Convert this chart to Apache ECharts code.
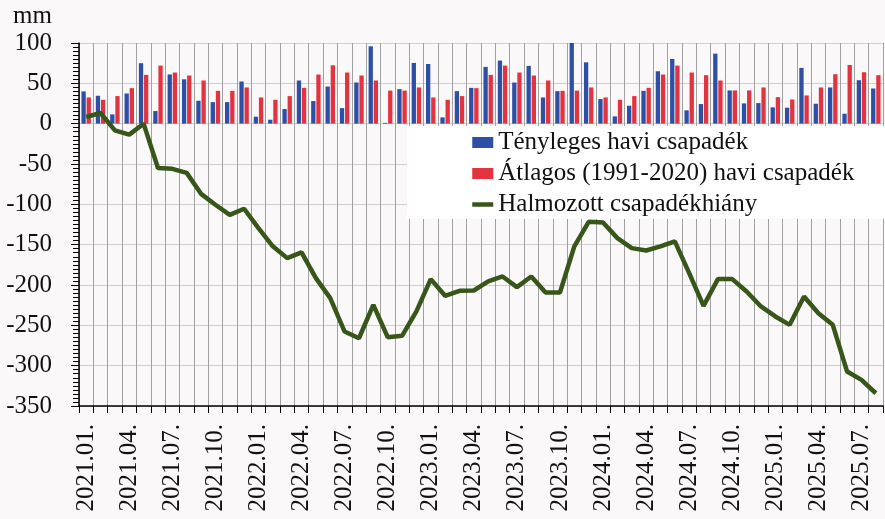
<!DOCTYPE html>
<html>
<head>
<meta charset="utf-8">
<script src="https://cdn.jsdelivr.net/npm/echarts@6/dist/echarts.min.js"></script>
<style>
  html, body { margin: 0; padding: 0; background: #fbf8f9; }
  #box { width: 885px; height: 519px; }
</style>
</head>
<body>
<div id="box"></div>
<script>
// hónapok 2021.01. - 2025.08.
var months = [];
for (var y = 2021; y <= 2025; y++) {
  for (var m = 1; m <= 12; m++) {
    if (y === 2025 && m > 8) break;
    months.push(y + '.' + (m < 10 ? '0' + m : m) + '.');
  }
}

// Tényleges havi csapadék (mm)
var actual = [
  40, 34.6, 11.5, 37.4, 75, 15.6, 61, 55, 28.4, 26.7, 26.7, 52.3,
  8.6, 4.9, 18.1, 53.5, 28, 46, 19.3, 51, 95.9, 1, 42.8, 75.3,
  74, 7.8, 40.3, 44.4, 70.4, 78.2, 51, 71.6, 32.5, 40.3, 100, 76,
  30.5, 9, 22.2, 40.7, 65, 80.2, 16.5, 24.3, 86.8, 41.2, 25.1, 25.5,
  20.2, 19.8, 69.1, 24.7, 44.9, 12.3, 53.9, 43.6
];

// Átlagos (1991-2020) havi csapadék (mm)
var average = [
  32.5, 29.6, 34.2, 44, 60.5, 72, 63.4, 59.7, 53.5, 40.7, 40.7, 44.9,
  32.5, 29.6, 34.2, 44.4, 60.9, 72.4, 63.4, 59.7, 53.5, 41, 41, 44.9,
  32.5, 29.6, 34.2, 44, 60.5, 72, 63.4, 59.7, 53.5, 40.7, 41, 44.9,
  32.5, 29.6, 34.2, 44.4, 60.9, 72, 63.4, 60.1, 53.5, 41.2, 41.2, 44.9,
  32.9, 30, 35, 44.9, 61.3, 72.8, 63.8, 60.1
];

// Halmozott csapadékhiány (mm)
var deficit = [
  8.3, 13.2, -8.3, -13.6, 0, -55, -56, -61, -87, -100.5, -113, -105.5,
  -129.4, -152, -166.7, -159.6, -191.5, -216.3, -257.7, -266, -224.6, -264.7, -263, -232.8,
  -192.7, -213.4, -207.2, -206.8, -195.6, -189.4, -202.6, -189.4, -209.3, -209.3, -152.2, -121.6,
  -122.4, -141.9, -154.3, -157.2, -152.2, -146, -185.3, -225.8, -192.7, -192.7, -208, -226.6,
  -239, -249.4, -214.2, -235, -249.4, -307.3, -317.6, -334.2
];

var font = '"Liberation Serif", "Times New Roman", serif';

var myChart = echarts.init(document.getElementById('box'));

var option = {
  backgroundColor: '#fbf8f9',
  animation: false,
  textStyle: { fontFamily: font },
  grid: { left: 79, right: 2, top: 43, bottom: 113, containLabel: false },
  legend: {
    orient: 'vertical',
    left: 407,
    top: 126,
    padding: [4, 40, 2, 63],
    backgroundColor: '#ffffff',
    itemWidth: 21,
    itemHeight: 11,
    itemGap: 6,
    textStyle: { fontFamily: font, fontSize: 25, color: '#111', lineHeight: 25 },
    data: [
      { name: 'Tényleges havi csapadék', icon: 'rect' },
      { name: 'Átlagos (1991-2020) havi csapadék', icon: 'rect' },
      { name: 'Halmozott csapadékhiány', itemStyle: { opacity: 0 }, lineStyle: { width: 4.5 } }
    ]
  },
  xAxis: {
    type: 'category',
    data: months,
    boundaryGap: true,
    axisLine: { onZero: false, lineStyle: { color: '#000', width: 1.5 } },
    axisTick: { show: true, interval: 0, length: 7, lineStyle: { color: '#000' } },
    axisLabel: {
      interval: 2,
      rotate: 90,
      margin: 18,
      fontFamily: font,
      fontSize: 25,
      color: '#111'
    },
    splitLine: { show: true, interval: 0, lineStyle: { color: '#a0a0a0', width: 1 } }
  },
  yAxis: {
    type: 'value',
    min: -350,
    max: 100,
    interval: 50,
    name: 'mm',
    nameLocation: 'end',
    nameGap: 14,
    nameTextStyle: { fontFamily: font, fontSize: 25, color: '#111', align: 'right', padding: [0, 27, 0, 0] },
    axisLine: { show: true, lineStyle: { color: '#000', width: 1.5 } },
    axisTick: { show: true, length: 8, lineStyle: { color: '#000' } },
    minorTick: { show: true, splitNumber: 10, length: 6, lineStyle: { color: '#000' } },
    axisLabel: { margin: 27, fontFamily: font, fontSize: 25, color: '#111' },
    splitLine: { show: true, lineStyle: { color: '#cfcfcf', width: 1 } }
  },
  series: [
    {
      name: 'Tényleges havi csapadék',
      type: 'bar',
      data: actual,
      barWidth: 4.3,
      barGap: '20%',
      itemStyle: { color: '#2d4fa6' }
    },
    {
      name: 'Átlagos (1991-2020) havi csapadék',
      type: 'bar',
      data: average,
      barWidth: 4.3,
      itemStyle: { color: '#e3333f' }
    },
    {
      name: 'Halmozott csapadékhiány',
      type: 'line',
      data: deficit,
      symbol: 'none',
      z: 5,
      lineStyle: { color: '#38561a', width: 4.5 },
      itemStyle: { color: '#38561a' }
    }
  ]
};

myChart.setOption(option);
</script>
</body>
</html>
